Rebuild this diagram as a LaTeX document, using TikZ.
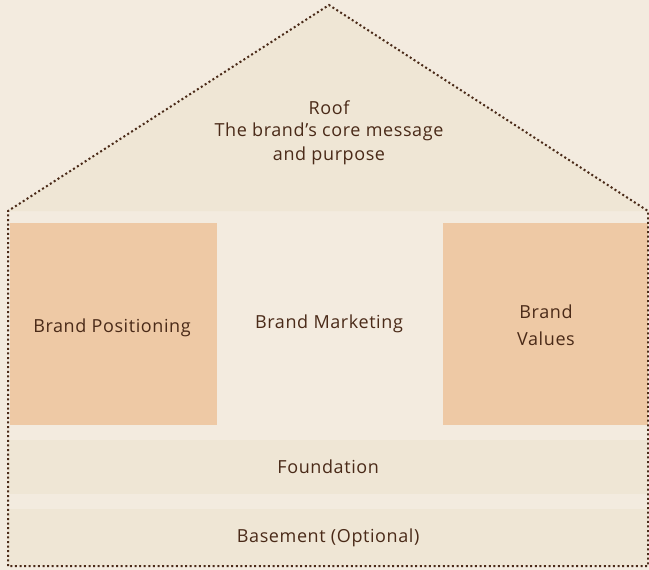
\documentclass[tikz,border=0pt]{standalone}
\usepackage{fontspec}
\setmainfont{Open Sans}[LetterSpace=3.3]
\definecolor{bg}{HTML}{F3EBDF}
\definecolor{band}{HTML}{EFE6D5}
\definecolor{pillar}{HTML}{EEC9A5}
\definecolor{ink}{HTML}{4A2A18}
\begin{document}
\begin{tikzpicture}[x=1pt,y=-1pt,
  txt/.style={text=ink,font=\fontsize{18}{24}\selectfont,align=center,inner sep=0pt},
  pillarbox/.style={fill=pillar,draw=none,inner sep=0pt,anchor=north west},
  bandbox/.style={fill=band,draw=none,inner sep=0pt,anchor=north west},
  outline/.style={draw=ink,line width=2pt,dash pattern=on 2pt off 2.6pt}]
\fill[bg] (0,0) rectangle (649,570);
\useasboundingbox (0,0) rectangle (649,570);
\fill[band] (8,211) -- (329,5) -- (648,211) -- cycle;
\node[pillarbox,minimum width=207pt,minimum height=202pt] (pos) at (10,223) {};
\node[pillarbox,minimum width=205pt,minimum height=202pt] (val) at (443,223) {};
\node[bandbox,minimum width=640pt,minimum height=54pt] (fnd) at (8,440) {};
\node[bandbox,minimum width=640pt,minimum height=57pt] (bsm) at (8,509) {};
\node[txt] (roof) at (329,108) {Roof};
\node[txt] (roofd) at (329,144) {The brand’s core message\\and purpose};
\node[txt] (post) at (112,328) {Brand Positioning};
\node[txt] (mkt) at (329,324) {Brand Marketing};
\node[txt,font=\fontsize{18}{27}\selectfont] (valt) at (546,325) {Brand\\Values};
\node[txt] (fndt) at (fnd.center) {Foundation};
\node[txt] (bsmt) at (bsm.center) {Basement (Optional)};
\draw[outline] (8,566) -- (8,211) -- (329,5) -- (648,211) -- (648,566) -- cycle;
\end{tikzpicture}
\end{document}
